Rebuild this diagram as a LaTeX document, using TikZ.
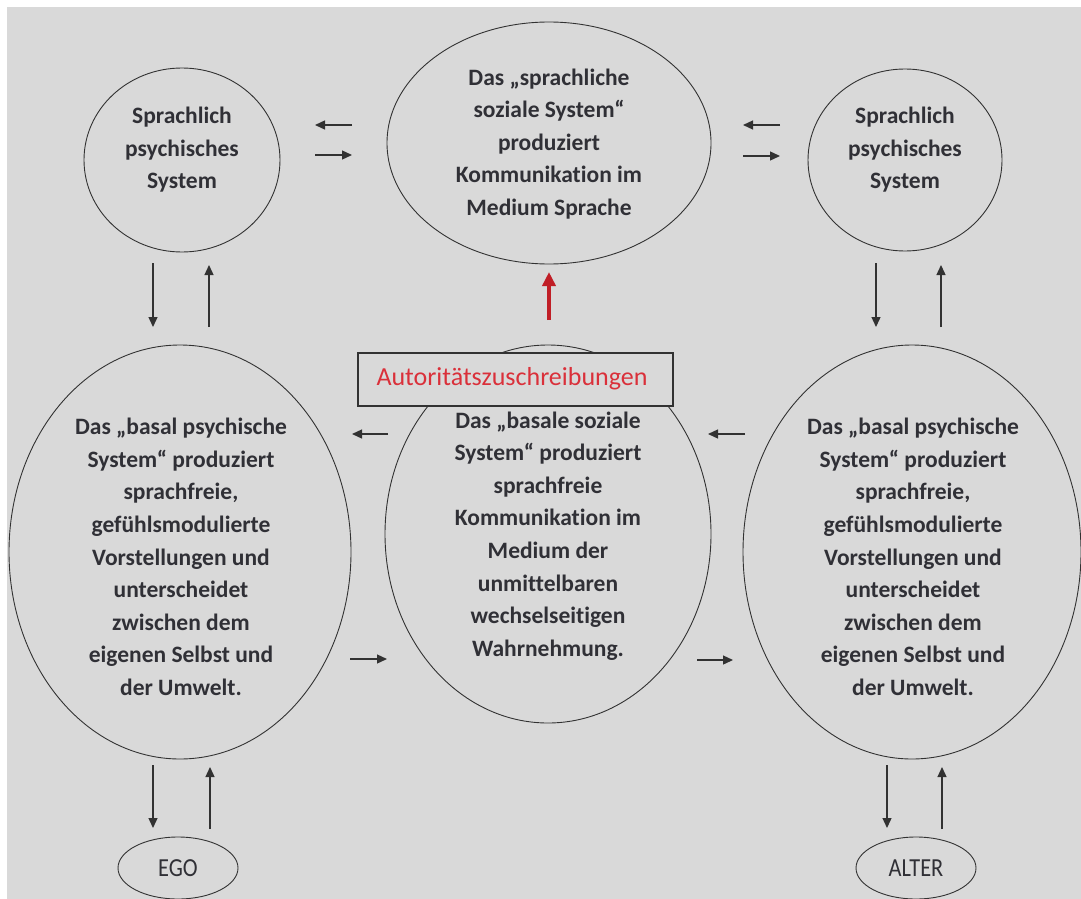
\documentclass[tikz,border=0pt]{standalone}
\usepackage{fontspec}
\setmainfont{Carlito}[Ligatures=NoCommon]
\usetikzlibrary{shapes.geometric,arrows.meta}
\definecolor{bggray}{RGB}{217,217,217}
\definecolor{ink}{RGB}{48,48,54}
\definecolor{linec}{RGB}{50,50,50}
\definecolor{redtxt}{RGB}{218,48,58}
\definecolor{redarr}{RGB}{192,30,38}
\tikzset{
  ell/.style={ellipse, draw=linec, line width=0.9pt, inner sep=0pt},
  txt/.style={align=center, text=ink, font=\fontsize{23.5}{32.6}\selectfont\bfseries, inner sep=0pt},
  smalltxt/.style={text=ink, font=\fontsize{26}{28}\selectfont, inner sep=0pt},
  arr/.style={draw=linec, line width=1.3pt, -{Triangle[length=10pt,width=9pt]}},
  redarrow/.style={draw=redarr, line width=4pt, -{Triangle[length=14pt,width=13pt]}},
  boxstyle/.style={draw=linec, line width=1.3pt, fill=bggray, inner sep=0pt},
}
\begin{document}
\begin{tikzpicture}[x=1pt,y=-1pt]
\useasboundingbox (0,0) rectangle (1081,899);
\fill[white] (0,0) rectangle (1081,899);
\fill[bggray] (7,7) rectangle (1081,899);

% ellipses
\node[ell, minimum width=196pt, minimum height=184pt] (lc) at (182,160) {};
\node[ell, minimum width=194pt, minimum height=182pt] (rc) at (905,160) {};
\node[ell, minimum width=324pt, minimum height=242pt] (top) at (549,143) {};
\node[ell, minimum width=342pt, minimum height=414pt] (lb) at (180,552) {};
\node[ell, minimum width=326pt, minimum height=378pt] (cb) at (548,534) {};
\node[ell, minimum width=338pt, minimum height=414pt] (rb) at (912,552) {};
\node[ell, minimum width=120pt, minimum height=62pt] (ego) at (178,868) {};
\node[ell, minimum width=120pt, minimum height=62pt] (alter) at (916,868) {};

% texts
\node[txt] (lct) at (182,150) {Sprachlich\\psychisches\\System};
\node[txt] (rct) at (905,150) {Sprachlich\\psychisches\\System};
\node[txt] (topt) at (549,144) {Das „sprachliche\\soziale System“\\produziert\\Kommunikation im\\Medium Sprache};
\node[txt] (lbt) at (181,557) {Das „basal psychische\\System“ produziert\\sprachfreie,\\gefühlsmodulierte\\Vorstellungen und\\unterscheidet\\zwischen dem\\eigenen Selbst und\\der Umwelt.};
\node[txt] (rbt) at (913,557) {Das „basal psychische\\System“ produziert\\sprachfreie,\\gefühlsmodulierte\\Vorstellungen und\\unterscheidet\\zwischen dem\\eigenen Selbst und\\der Umwelt.};
\node[txt] (cbt) at (548,536) {Das „basale soziale\\System“ produziert\\sprachfreie\\Kommunikation im\\Medium der\\unmittelbaren\\wechselseitigen\\Wahrnehmung.};
\node[smalltxt] (egot) at (178,868) {\scalebox{0.86}[1]{EGO}};
\node[smalltxt] (altert) at (916,868) {\scalebox{0.86}[1]{ALTER}};

% box
\node[boxstyle, minimum width=315pt, minimum height=53pt] (auth) at (515.5,379.5) {};
\node[text=redtxt, font=\fontsize{26}{30}\selectfont, inner sep=0pt] (autht) at (512,379) {Autoritätszuschreibungen};

% arrow coordinates
\coordinate (a1s) at (352,125); \coordinate (a1e) at (315,125);
\coordinate (a2s) at (315,155); \coordinate (a2e) at (352,155);
\coordinate (a3s) at (780,125); \coordinate (a3e) at (743,125);
\coordinate (a4s) at (743,156); \coordinate (a4e) at (780,156);
\coordinate (v1s) at (153,263); \coordinate (v1e) at (153,327);
\coordinate (v2s) at (209,327); \coordinate (v2e) at (209,265);
\coordinate (v3s) at (876,263); \coordinate (v3e) at (876,327);
\coordinate (v4s) at (941,327); \coordinate (v4e) at (941,265);
\coordinate (rs) at (549,320); \coordinate (re) at (549,272);
\coordinate (m1s) at (388,434); \coordinate (m1e) at (352,434);
\coordinate (m2s) at (745,434); \coordinate (m2e) at (708,434);
\coordinate (m3s) at (350,659); \coordinate (m3e) at (387,659);
\coordinate (m4s) at (697,660); \coordinate (m4e) at (733,660);
\coordinate (b1s) at (153,765); \coordinate (b1e) at (153,828);
\coordinate (b2s) at (210,829); \coordinate (b2e) at (210,767);
\coordinate (b3s) at (887,765); \coordinate (b3e) at (887,828);
\coordinate (b4s) at (942,829); \coordinate (b4e) at (942,767);

\foreach \p in {a1,a2,a3,a4,v1,v2,v3,v4,m1,m2,m3,m4,b1,b2,b3,b4}
  \draw[arr] (\p s) -- (\p e);
\draw[redarrow] (rs) -- (re);
\end{tikzpicture}
\end{document}
